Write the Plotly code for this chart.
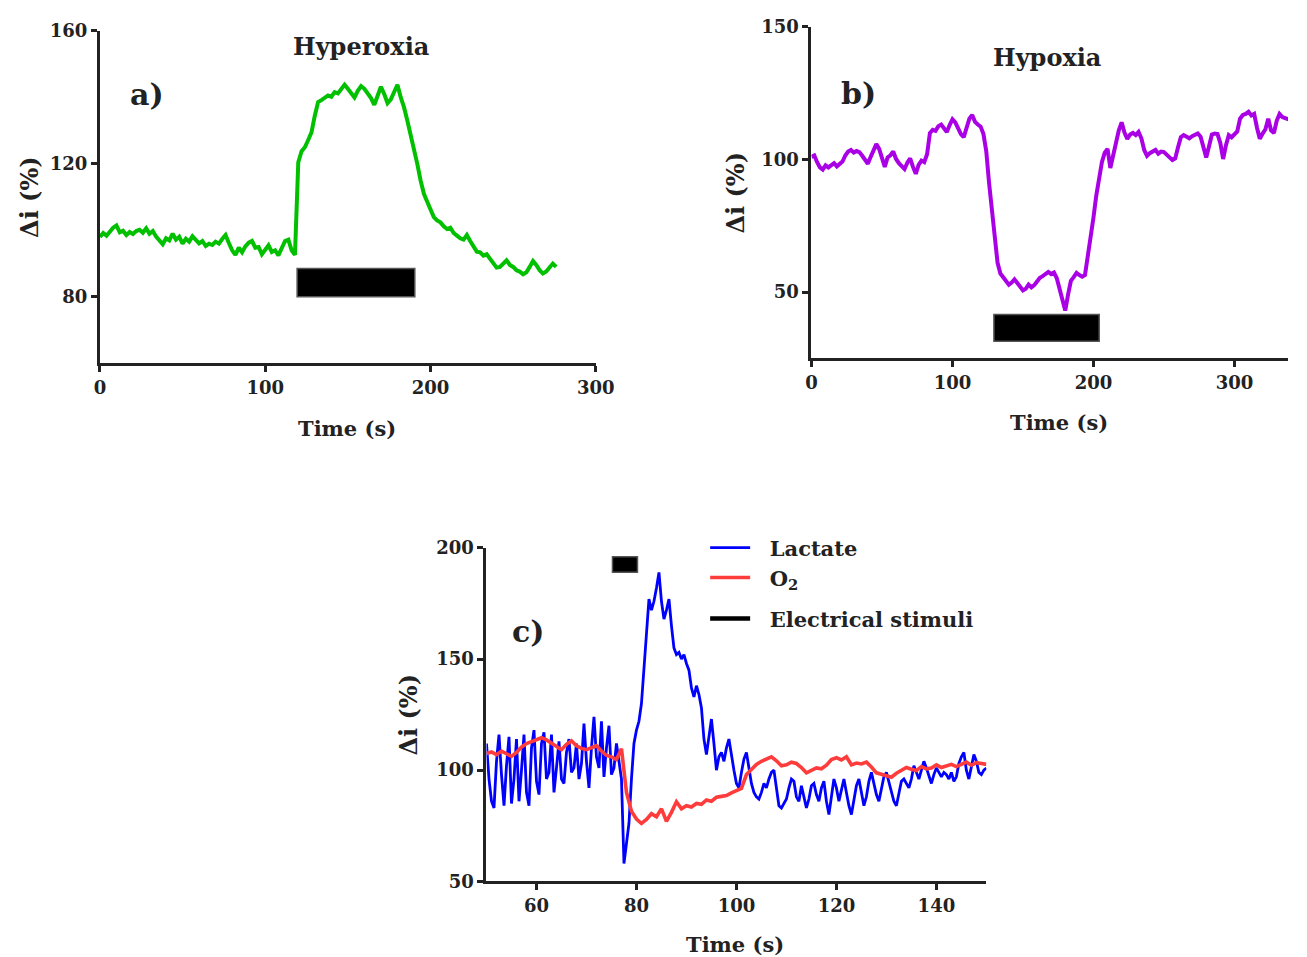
import plotly.graph_objects as go

W, H = 1307, 957
FONT = "DejaVu Serif"
INK = "#222222"

# ---------------- data ----------------
# a) Hyperoxia: fluorescence change (%) sampled every 2 s from t = 0
hyperoxia_t0, hyperoxia_dt = 0, 2
hyperoxia = [
    98.0, 99.2, 98.4, 99.6, 100.8, 101.5, 99.4, 99.9, 98.6, 99.5,
    98.9, 99.8, 100.2, 99.3, 100.6, 99.0, 99.8, 98.1, 97.0, 95.8,
    97.6, 97.0, 99.0, 97.2, 98.1, 96.0, 97.5, 96.6, 98.2, 97.0,
    96.1, 96.8, 95.3, 96.0, 95.6, 96.6, 96.0, 97.4, 98.6, 96.2,
    94.0, 92.6, 94.8, 93.4, 95.2, 96.3, 96.8, 94.8, 95.0, 92.8,
    94.0, 95.5, 93.5, 94.0, 92.5, 94.8, 96.8, 97.2, 94.0, 92.6,
    120.5, 123.8, 125.0, 127.2, 129.5, 134.5, 138.6, 139.2, 140.0, 140.6,
    140.2, 141.6, 141.2, 142.4, 143.8, 142.6, 141.4, 140.0, 142.0, 143.4,
    142.6, 141.4, 139.8, 137.8, 140.8, 143.2, 141.0, 138.3, 139.4, 141.6,
    143.8, 140.0, 137.0, 133.0, 129.0, 124.6, 120.0, 115.0, 111.0, 108.6,
    106.4, 104.0, 103.0, 102.4, 101.2, 100.4, 100.8, 99.2, 98.4, 97.6,
    97.2, 98.6, 96.8, 95.0, 93.6, 93.4, 92.4, 92.8, 91.6, 90.0,
    88.8, 89.0, 90.2, 91.0, 89.6, 89.0, 88.0, 87.6, 86.8, 87.4,
    89.0, 90.8, 89.6, 88.0, 87.0, 87.6, 88.8, 90.0, 89.0,
]

# b) Hypoxia: fluorescence change (%) sampled every 2 s from t = 0
hypoxia_t0, hypoxia_dt = 0, 2
hypoxia = [
    101.0, 101.5, 99.0, 97.0, 96.2, 97.8, 97.0, 97.8, 98.6, 97.4,
    98.4, 99.2, 101.5, 103.0, 103.6, 102.6, 103.2, 102.8, 101.4, 99.8,
    98.4, 101.0, 103.8, 105.8, 104.0, 100.4, 97.2, 100.8, 101.6, 103.0,
    100.2, 98.6, 97.4, 96.4, 98.8, 100.4, 97.2, 94.6, 98.0, 99.6,
    99.0, 102.0, 110.0, 111.2, 110.8, 112.6, 113.2, 111.6, 110.4, 113.0,
    115.2, 114.0, 111.4, 109.6, 108.4, 112.6, 115.4, 116.8, 114.2, 113.2,
    112.4, 109.6, 103.0, 91.0, 80.0, 68.7, 61.0, 57.0, 55.4, 54.2,
    52.8, 53.6, 54.8, 53.4, 52.0, 50.6, 51.2, 52.8, 51.8, 52.6,
    54.0, 55.4, 56.0, 57.0, 57.6, 56.8, 57.4, 55.2, 51.0, 47.5,
    43.0, 49.0, 54.2, 55.6, 57.2, 56.4, 55.8, 56.4, 63.0, 70.0,
    78.0, 86.4, 94.0, 99.0, 102.6, 104.0, 96.8, 101.6, 107.4, 111.0,
    114.0, 110.2, 107.8, 109.4, 110.0, 109.2, 110.4, 108.0, 103.6, 101.4,
    102.4, 103.2, 103.6, 102.2, 103.0, 102.8, 102.0, 100.8, 99.8, 100.4,
    104.6, 108.4, 109.2, 108.6, 108.0, 108.8, 109.4, 109.8, 108.6, 104.0,
    100.8, 105.0, 109.4, 109.8, 109.6, 106.2, 100.2, 105.4, 109.2, 108.4,
    109.8, 110.6, 115.4, 116.8, 117.2, 118.0, 116.6, 117.2, 112.0, 107.8,
    109.8, 111.4, 115.4, 111.0, 110.0, 114.6, 117.2, 116.0, 115.6, 115.2,
    115.0, 114.4, 113.2, 105.3,
]

# c) Lactate sensor, sampled every 0.5 s from t = 50 s
lactate_t0, lactate_dt = 50, 0.5
lactate = [
    112, 96, 86, 83, 104, 116, 98, 84, 102, 115,      # 50-54.5
    85, 96, 114, 86, 100, 116, 90, 84, 110, 118,      # 55-59.5
    95, 89, 112, 117, 96, 99, 116, 90, 101, 113,      # 60-64.5
    96, 94, 108, 114, 99, 101, 112, 96, 103, 121,     # 65-69.5
    104, 92, 110, 124, 106, 101, 122, 97, 110, 120,   # 70-74.5
    98, 101, 112, 104, 96, 58, 66, 76, 96, 112,       # 75-79.5
    118, 122, 130, 145, 160, 177, 172, 176, 182, 189, # 80-84.5
    176, 168, 172, 177, 165, 155, 152, 153, 150, 152, # 85-89.5
    148, 145, 137, 133, 138, 134, 128, 114, 107, 116, # 90-94.5
    123, 112, 100, 106, 108, 104, 110, 114, 106, 100, # 95-99.5
    94, 92, 99, 105, 108, 100, 94, 90, 88, 87,        # 100-104.5
    90, 94, 92, 96, 99, 100, 92, 84, 83, 85,          # 105-109.5
    87, 92, 96, 95, 88, 86, 93, 88, 83, 87,           # 110-114.5
    93, 94, 89, 86, 92, 95, 86, 80, 88, 96,           # 115-119.5
    92, 86, 91, 96, 90, 84, 80, 86, 93, 96,           # 120-124.5
    90, 84, 88, 95, 99, 94, 89, 86, 92, 97,           # 125-129.5
    99, 95, 90, 86, 84, 90, 95, 96, 94, 92,           # 130-134.5
    96, 102, 99, 96, 100, 104, 101, 97, 94, 98,       # 135-139.5
    101, 99, 97, 99, 98, 96, 99, 95, 97, 103,         # 140-144.5
    106, 108, 100, 96, 101, 107, 104, 99, 98, 100,    # 145-149.5
    101,                                              # 150
]

# c) O2 sensor, sampled every 1 s from t = 50 s
o2_t0, o2_dt = 50, 1
o2 = [
    107.5, 108.2, 107.0, 108.6, 107.4, 106.2, 108.0, 110.4, 112.0, 112.8,   # 50-59
    113.4, 114.6, 113.6, 112.0, 110.6, 109.2, 111.6, 113.2, 111.0, 109.8,   # 60-69
    109.2, 110.0, 111.0, 108.6, 106.6, 106.0, 104.8, 109.6, 90.0, 81.5,     # 70-79
    78.0, 76.0, 77.8, 80.4, 79.0, 82.6, 77.0, 81.0, 85.8, 82.6,             # 80-89
    84.0, 83.4, 85.0, 84.6, 86.6, 86.0, 87.8, 88.2, 88.6, 89.8,             # 90-99
    90.6, 91.8, 98.0, 100.4, 102.6, 104.0, 104.8, 106.0, 104.2, 102.0,      # 100-109
    102.4, 103.6, 103.0, 101.2, 98.8, 100.0, 101.0, 100.6, 102.2, 104.8,    # 110-119
    105.6, 104.6, 106.0, 102.4, 103.2, 102.8, 103.6, 101.4, 98.8, 98.2,     # 120-129
    97.4, 96.8, 98.6, 99.8, 101.2, 100.4, 99.8, 101.6, 100.6, 101.0,        # 130-139
    102.4, 101.2, 101.8, 102.6, 101.6, 102.8, 103.6, 102.2, 103.4, 103.0,   # 140-149
    102.6,                                                                  # 150
]

# stimulus periods (start, end) in s and the level band of each marker bar
stim_a, bar_a = (119.3, 190.5), (80.0, 88.5)
stim_b, bar_b = (129.4, 204.1), (31.4, 41.5)
stim_c, bar_c = (75.2, 80.2), (189.0, 196.0)

# axis ticks
xticks_a, yticks_a = [0, 100, 200, 300], [80, 120, 160]
xticks_b, yticks_b = [0, 100, 200, 300], [50, 100, 150]
xticks_c, yticks_c = [60, 80, 100, 120, 140], [50, 100, 150, 200]


def times(t0, dt, n):
    return [t0 + dt * i for i in range(n)]


# page placement: the rendered page lands slightly inset and shrunk in the
# final view, so layout pixel positions are mapped through that offset/scale
SX, OX, SY, OY = 0.987, 3.5, 0.98, 9.0


def px(x):
    return min(1.0, max(0.0, (x - OX) / SX / W))


def py(y):
    return min(1.0, max(0.0, 1 - (y - OY) / SY / H))


GREEN, PURPLE, BLUE, RED = "#00c000", "#aa00e6", "#0000ff", "#ff3c3c"
PAD = "\u00a0\u00a0"  # gap between legend swatch and label

fig = go.Figure()

fig.add_trace(go.Scatter(
    x=times(hyperoxia_t0, hyperoxia_dt, len(hyperoxia)), y=hyperoxia,
    mode="lines", line=dict(color=GREEN, width=4), showlegend=False,
    xaxis="x", yaxis="y"))

fig.add_trace(go.Scatter(
    x=times(hypoxia_t0, hypoxia_dt, len(hypoxia)), y=hypoxia,
    mode="lines", line=dict(color=PURPLE, width=4), showlegend=False,
    xaxis="x2", yaxis="y2"))

fig.add_trace(go.Scatter(
    x=times(lactate_t0, lactate_dt, len(lactate)), y=lactate,
    mode="lines", name=PAD + "Lactate", line=dict(color=BLUE, width=2.8),
    xaxis="x3", yaxis="y3", legend="legend"))

fig.add_trace(go.Scatter(
    x=times(o2_t0, o2_dt, len(o2)), y=o2,
    mode="lines", name=PAD + "O<sub>2</sub>", line=dict(color=RED, width=3.6),
    xaxis="x3", yaxis="y3", legend="legend2"))

fig.add_trace(go.Scatter(
    x=[None], y=[None], mode="lines", name=PAD + "Electrical stimuli",
    line=dict(color="black", width=4.5),
    xaxis="x3", yaxis="y3", legend="legend3"))

# stimulus marker bars
for (t_on, t_off), (lo, hi), xr, yr in [
    (stim_a, bar_a, "x", "y"),
    (stim_b, bar_b, "x2", "y2"),
    (stim_c, bar_c, "x3", "y3"),
]:
    fig.add_shape(type="rect", xref=xr, yref=yr, x0=t_on, x1=t_off, y0=lo, y1=hi,
                  fillcolor="black", line=dict(color="#555555", width=1.5))

tick_font = dict(family=FONT, size=18, color=INK, weight="bold")


def axis(domain, rng, tickvals, anchor):
    return dict(domain=domain, range=rng, tickvals=tickvals, anchor=anchor,
                showline=True, linecolor=INK, linewidth=3, mirror=False,
                ticks="outside", ticklen=6, tickwidth=2.5, tickcolor=INK,
                showgrid=False, zeroline=False, tickfont=tick_font, fixedrange=True)


layout = dict(
    width=W, height=H, autosize=False,
    margin=dict(l=0, r=0, t=0, b=0),
    paper_bgcolor="white", plot_bgcolor="white",
    font=dict(family=FONT, color=INK),
    xaxis=axis([px(98), px(597)], [0, 300], xticks_a, "y"),
    yaxis=axis([py(362), py(29)], [60, 160], yticks_a, "x"),
    xaxis2=axis([px(814), 1.0], [0, 338], xticks_b, "y2"),
    yaxis2=axis([py(357), py(25)], [25, 150], yticks_b, "x2"),
    xaxis3=axis([px(487), px(990)], [50, 150], xticks_c, "y3"),
    yaxis3=axis([py(881), py(547)], [50, 200], yticks_c, "x3"),
)

legend_font = dict(family=FONT, size=21, color=INK, weight="bold")
for key, ypix in [("legend", 547), ("legend2", 577), ("legend3", 618)]:
    layout[key] = dict(x=px(707), y=py(ypix), xanchor="left", yanchor="middle",
                       bgcolor="rgba(0,0,0,0)", font=legend_font,
                       itemwidth=40, borderwidth=0)

fig.update_layout(**layout)

# panel titles, letters and axis titles
texts = [
    ("Hyperoxia", 361, 45, 24, 0),
    ("Hypoxia", 1051, 56, 24, 0),
    ("a)", 145, 93, 30, 0),
    ("b)", 861, 92, 30, 0),
    ("c)", 529, 631, 30, 0),
    ("Time (s)", 347, 427, 21, 0),
    ("Time (s)", 1063, 421, 21, 0),
    ("Time (s)", 737, 944, 21, 0),
    ("Δi (%)", 27, 195, 24, -90),
    ("Δi (%)", 738, 191, 24, -90),
    ("Δi (%)", 409, 714, 24, -90),
]
for txt, x, y, size, ang in texts:
    fig.add_annotation(text=txt, x=px(x), y=py(y), xref="paper", yref="paper",
                       showarrow=False, textangle=ang, xanchor="center", yanchor="middle",
                       font=dict(family=FONT, size=size, color=INK, weight="bold"))

fig.write_html("out.html", config={"displayModeBar": False})
